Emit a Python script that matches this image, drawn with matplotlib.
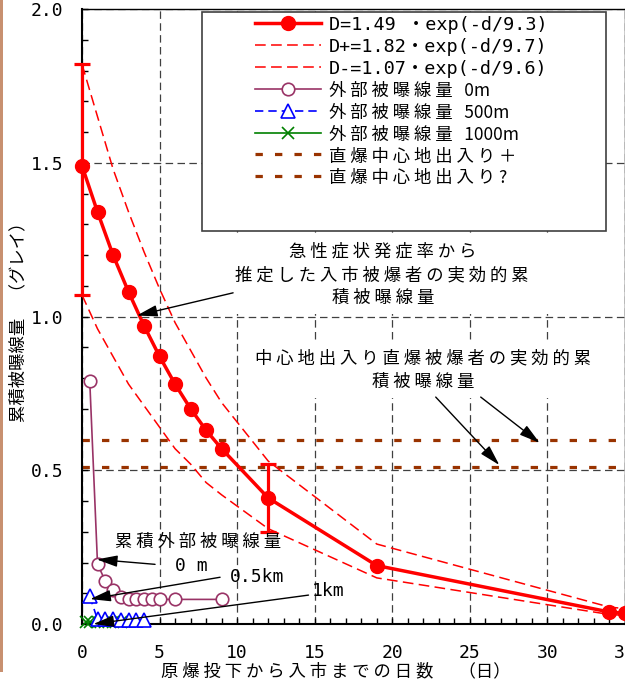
import matplotlib
matplotlib.use('Agg')
import matplotlib.pyplot as plt
from matplotlib.patches import Rectangle
from matplotlib.ticker import MultipleLocator, FixedLocator, FixedFormatter

JP = ['Noto Sans CJK JP', 'DejaVu Sans']
MONO = ['DejaVu Sans Mono', 'Noto Sans CJK JP']
plt.rcParams['font.family'] = MONO

# ---------------- data ----------------
days = [0, 1, 2, 3, 4, 5, 6, 7, 8, 9, 12, 19, 34, 35]
dose = [1.49, 1.34, 1.20, 1.08, 0.97, 0.87, 0.78, 0.70, 0.63, 0.57, 0.41, 0.19, 0.039, 0.035]
dose_hi = [1.82, 1.65, 1.48, 1.34, 1.21, 1.09, 0.98, 0.89, 0.80, 0.72, 0.53, 0.26, 0.055, 0.050]
dose_lo = [1.07, 0.96, 0.87, 0.78, 0.71, 0.64, 0.57, 0.52, 0.46, 0.42, 0.31, 0.15, 0.031, 0.028]

err_days = [0, 12]
err_center = [1.49, 0.41]
err_low = [1.07, 0.30]
err_high = [1.82, 0.52]

ext0_days = [0.5, 1.0, 1.5, 2.0, 2.5, 3.0, 3.5, 4.0, 4.5, 5.0, 6.0, 9.0]
ext0_dose = [0.79, 0.195, 0.14, 0.11, 0.087, 0.08, 0.08, 0.08, 0.08, 0.08, 0.08, 0.08]
ext500_days = [0.5, 1.0, 1.5, 2.0, 2.5, 3.0, 3.5, 4.0]
ext500_dose = [0.09, 0.015, 0.015, 0.015, 0.013, 0.013, 0.013, 0.013]
ext1000_days = [0.25, 0.5, 1.0, 1.5, 2.0, 2.5]
ext1000_dose = [0.005, 0.005, 0.005, 0.005, 0.005, 0.005]

direct_days = [0, 35]
direct_plus = [0.60, 0.60]
direct_q = [0.51, 0.51]

x_ticks = [0, 5, 10, 15, 20, 25, 30, 35]
x_tick_labels = ['0', '5', '10', '15', '20', '25', '30', '35']
y_ticks = [0.0, 0.5, 1.0, 1.5, 2.0]
y_tick_labels = ['0.0', '0.5', '1.0', '1.5', '2.0']

legend_labels = ['D=1.49 ・exp(-d/9.3)',
                 'D+=1.82・exp(-d/9.7)',
                 'D-=1.07・exp(-d/9.6)',
                 '外部被曝線量|0m',
                 '外部被曝線量|500m',
                 '外部被曝線量|1000m',
                 '直爆中心地出入り＋',
                 '直爆中心地出入り?']

x_label = '原爆投下から入市までの日数'
x_label_unit = '（日）'
y_label = '累積被曝線量　（グレイ）'
note1 = ['急性症状発症率から', '推定した入市被爆者の実効的累', '積被曝線量']
note2 = ['中心地出入り直爆被爆者の実効的累', '積被曝線量']
note3 = '累積外部被曝線量'


def sp(s):
    return ' '.join(s)


def leg_label(s):
    if '|' in s:
        a, b = s.split('|')
        return sp(a) + '   ' + b
    if s.startswith('D'):
        return s
    return sp(s)


RED = '#ff0000'
PLUM = '#993366'
BROWN = '#993300'

fig = plt.figure(figsize=(6.25, 6.82), dpi=100)
W, H = 625.0, 682.0
ax = fig.add_axes([82 / W, 1 - 624 / H, 543 / W, 615 / H])

# left tan strip of the original screenshot
fig.add_artist(Rectangle((0, 10 / H), 2.5 / W, 1 - 10 / H, transform=fig.transFigure,
                         facecolor='#c89070', edgecolor='none'))

ax.set_xlim(0, 35)
ax.set_ylim(0, 2.0)

# grid
ax.grid(True, which='major', linestyle=(0, (6, 3.5)), color='#404040', linewidth=0.9)
ax.set_axisbelow(True)

# white boxes behind annotation texts
ax.add_patch(Rectangle(((225 - 82) / 543, (624 - 314) / 615), (620 - 225) / 543, (314 - 236) / 615,
                       transform=ax.transAxes, facecolor='white', edgecolor='none', zorder=1.7))
ax.add_patch(Rectangle(((245 - 82) / 543, (624 - 398) / 615), (605 - 245) / 543, (398 - 342) / 615,
                       transform=ax.transAxes, facecolor='white', edgecolor='none', zorder=1.7))
# legend frame
ax.add_patch(Rectangle(((202 - 82) / 543, (624 - 231) / 615), (606 - 202) / 543, (231 - 12) / 615,
                       transform=ax.transAxes, facecolor='white', edgecolor='#404040',
                       linewidth=1.2, zorder=1.8))

# series
h_main, = ax.plot(days, dose, color=RED, lw=2.5, marker='o', markersize=10,
                  markerfacecolor=RED, markeredgecolor=RED, zorder=4, clip_on=False)
h_hi, = ax.plot(days, dose_hi, color=RED, lw=1.1, linestyle=(0, (7, 3.5)), zorder=3)
h_lo, = ax.plot(days, dose_lo, color=RED, lw=1.1, linestyle=(0, (7, 3.5)), zorder=3)
yerr = [[c - l for c, l in zip(err_center, err_low)], [h - c for c, h in zip(err_center, err_high)]]
eb = ax.errorbar(err_days, err_center, yerr=yerr, fmt='none', ecolor=RED, elinewidth=2.3,
                 capsize=6, capthick=2.3, zorder=4)
for art in list(eb.lines[1]) + list(eb.lines[2]):
    art.set_clip_on(False)

h_e0, = ax.plot(ext0_days, ext0_dose, color=PLUM, lw=1.2, marker='o', markersize=9,
                markerfacecolor='white', markeredgecolor=PLUM, markeredgewidth=1.2, zorder=3.5)
h_e5, = ax.plot(ext500_days, ext500_dose, color='#0000ff', lw=1.2, linestyle=(0, (5, 3)),
                marker='^', markersize=10, markerfacecolor='white', markeredgecolor='#0000ff',
                markeredgewidth=1.2, zorder=3.4, clip_on=False)
h_e10, = ax.plot(ext1000_days, ext1000_dose, color='#008000', lw=1.2, marker='x', markersize=9,
                 markeredgewidth=1.2, zorder=3.3, clip_on=False)
h_dp, = ax.plot(direct_days, direct_plus, color=BROWN, lw=2.3, linestyle=(0, (2.3, 3.8)), zorder=2.5)
h_dq, = ax.plot(direct_days, direct_q, color=BROWN, lw=2.3, linestyle=(0, (2.3, 3.8)), zorder=2.5)

# axes styling
for s in ['left', 'bottom']:
    ax.spines[s].set_linewidth(1.5)
for s in ['top', 'right']:
    ax.spines[s].set_linewidth(1.0)
ax.xaxis.set_major_locator(FixedLocator(x_ticks))
ax.xaxis.set_major_formatter(FixedFormatter(x_tick_labels))
ax.yaxis.set_major_locator(FixedLocator(y_ticks))
ax.yaxis.set_major_formatter(FixedFormatter(y_tick_labels))
ax.xaxis.set_minor_locator(MultipleLocator(1))
ax.yaxis.set_minor_locator(MultipleLocator(0.1))
ax.tick_params(which='both', direction='in', length=4.3, width=1, color='black')
ax.tick_params(axis='x', which='major', pad=14.5, labelsize=13)
ax.tick_params(axis='y', which='major', pad=13.5, labelsize=13)
ax.tick_params(right=False, top=False, which='both')

# axis labels
ax.set_xlabel(sp(x_label) + '　  ' + x_label_unit, fontfamily=JP, fontsize=12.5, ha='left', va='center')
ax.xaxis.set_label_coords((161 - 82) / 543, -(671 - 624) / 615)
ax.set_ylabel(y_label, fontfamily=JP, fontsize=12.5, ha='center', va='center')
ax.yaxis.set_label_coords(-(82 - 18) / 543, (624 - 318) / 615)

# legend
leg = ax.legend([h_main, h_hi, h_lo, h_e0, h_e5, h_e10, h_dp, h_dq],
                [leg_label(s) for s in legend_labels],
                loc='upper left', bbox_to_anchor=((255 - 82) / 543, (624 - 16) / 615),
                frameon=False, borderpad=0, borderaxespad=0, fontsize=13,
                handlelength=3.65, handletextpad=0.45, handleheight=1.0, labelspacing=0.2)
for t, s in zip(leg.get_texts(), legend_labels):
    if s.startswith('D'):
        t.set_fontfamily(MONO)
        t.set_fontsize(13.3)
    else:
        t.set_fontfamily(JP)
        t.set_fontsize(12.5)

# annotations
def jtext(x, y, s):
    ax.text(x, y, sp(s), fontfamily=JP, fontsize=12.5, ha='center', va='center', zorder=6)

def ltext(x, y, s):
    ax.text(x, y, s, fontfamily=MONO, fontsize=13, ha='center', va='center', zorder=6)

def arrow(tip, start):
    ax.annotate('', xy=tip, xytext=start, zorder=6,
                arrowprops=dict(arrowstyle='-|>,head_length=0.9,head_width=0.25', mutation_scale=14,
                                color='black', lw=1.0, shrinkA=0, shrinkB=0))

jtext(19.4, 1.21, note1[0])
jtext(19.34, 1.135, note1[1])
jtext(19.4, 1.06, note1[2])
arrow((3.53, 1.003), (9.74, 1.077))

jtext(21.99, 0.865, note2[0])
jtext(21.99, 0.787, note2[1])
arrow((26.9, 0.517), (22.8, 0.738))
arrow((29.5, 0.589), (25.7, 0.738))

jtext(7.48, 0.267, note3)
ltext(7.05, 0.189, '0 m')
ltext(11.3, 0.154, '0.5km')
ltext(15.86, 0.107, '1km')
arrow((0.95, 0.210), (4.71, 0.194))
arrow((0.52, 0.081), (8.9, 0.152))
arrow((0.73, 0.0), (14.6, 0.094))

fig.savefig('out.png', dpi=100)
